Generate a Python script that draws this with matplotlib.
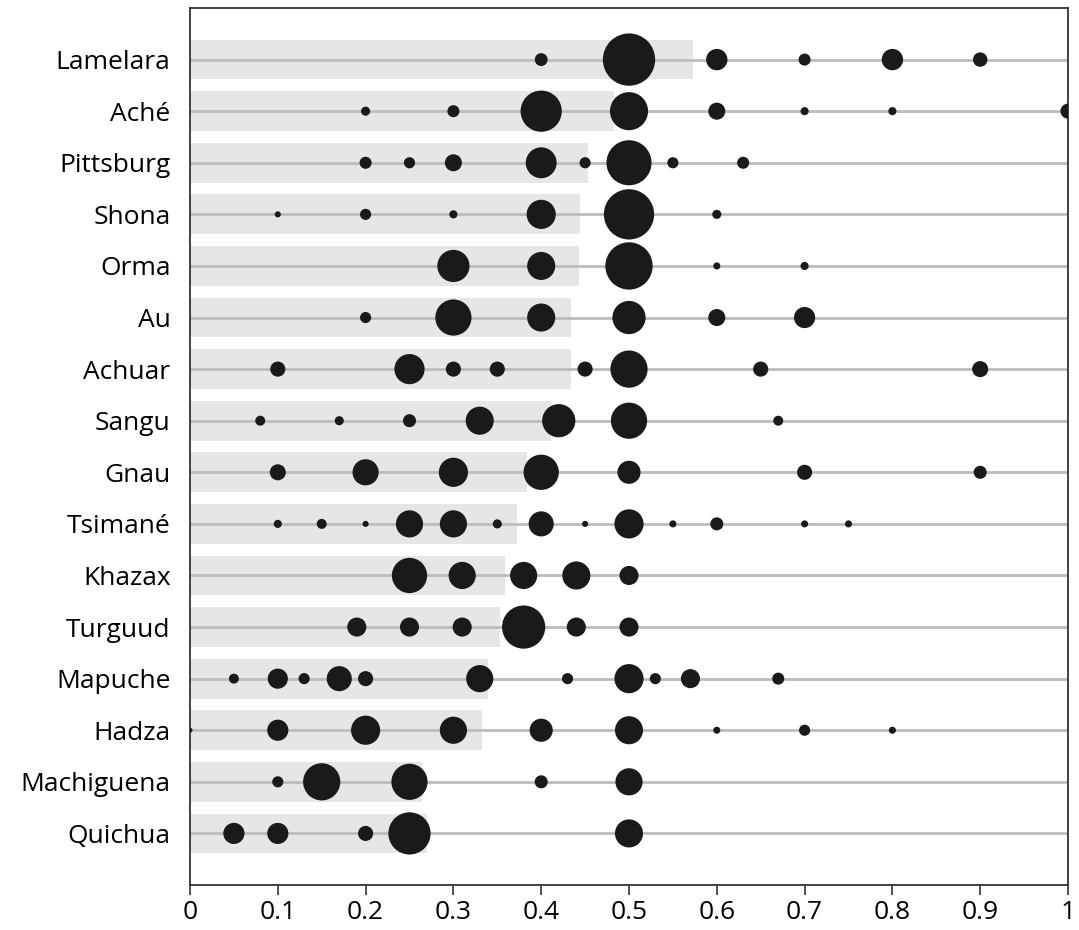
#required packages
import matplotlib.pyplot as plt
import numpy as np

plt.rcParams['font.family'] = ['Open Sans', 'DejaVu Sans']

#societies, top to bottom, with mean offer (gray bar)
societies = ["Lamelara", "Aché", "Pittsburg", "Shona", "Orma", "Au", "Achuar", "Sangu",
             "Gnau", "Tsimané", "Khazax", "Turguud", "Mapuche", "Hadza", "Machiguena", "Quichua"]
mean_offer = [0.573, 0.483, 0.453, 0.444, 0.443, 0.434, 0.434, 0.411,
              0.384, 0.372, 0.359, 0.353, 0.339, 0.333, 0.264, 0.27]

#offers made and share of offers (percent) for each society
lamelara_offers = [0.4, 0.5, 0.6, 0.7, 0.8, 0.9]
lamelara_share = [4, 66, 11, 3.5, 11, 5]
ache_offers = [0.2, 0.3, 0.4, 0.5, 0.6, 0.7, 0.8, 1.0]
ache_share = [2, 3.5, 41, 35, 7, 1.6, 1.6, 5.5]
pittsburg_offers = [0.2, 0.25, 0.3, 0.4, 0.45, 0.5, 0.55, 0.63]
pittsburg_share = [3.5, 3, 7, 23, 3, 49, 3, 3.5]
shona_offers = [0.1, 0.2, 0.3, 0.4, 0.5, 0.6]
shona_share = [0.9, 3, 1.6, 20.5, 61, 2]
orma_offers = [0.3, 0.4, 0.5, 0.6, 0.7]
orma_share = [25, 19, 54, 1.2, 1.6]
au_offers = [0.2, 0.3, 0.4, 0.5, 0.6, 0.7]
au_share = [3, 31.6, 19, 26.6, 7, 10.8]
achuar_offers = [0.1, 0.25, 0.3, 0.35, 0.45, 0.5, 0.65, 0.9]
achuar_share = [5.5, 22, 5.5, 5.5, 5.5, 33.4, 5.5, 6.2]
sangu_offers = [0.08, 0.17, 0.25, 0.33, 0.42, 0.5, 0.67]
sangu_share = [2.4, 2, 4.1, 19, 26.6, 31.6, 2.4]
gnau_offers = [0.1, 0.2, 0.3, 0.4, 0.5, 0.7, 0.9]
gnau_share = [6.2, 16.5, 20.5, 30, 12.9, 5.5, 4.1]
tsimane_offers = [0.1, 0.15, 0.2, 0.25, 0.3, 0.35, 0.4, 0.45, 0.5, 0.55, 0.6, 0.7, 0.75]
tsimane_share = [1.6, 2.4, 0.9, 17.8, 17.8, 2, 15.2, 0.9, 20.5, 1.2, 4.1, 1.2, 1.2]
khazax_offers = [0.25, 0.31, 0.38, 0.44, 0.5]
khazax_share = [30, 17.8, 17.8, 19, 8.8]
turguud_offers = [0.19, 0.25, 0.31, 0.38, 0.44, 0.5]
turguud_share = [8.8, 8.8, 8.8, 45, 8.8, 8.8]
mapuche_offers = [0.05, 0.1, 0.13, 0.17, 0.2, 0.33, 0.43, 0.5, 0.53, 0.57, 0.67]
mapuche_share = [2.4, 9.8, 3, 15.2, 5.5, 17.8, 3, 20.5, 3, 8.8, 3.5]
hadza_offers = [0.0, 0.1, 0.2, 0.3, 0.4, 0.5, 0.6, 0.7, 0.8]
hadza_share = [0.6, 10.8, 20.5, 17.8, 12.9, 19, 1.2, 3, 1.2]
machiguena_offers = [0.1, 0.15, 0.25, 0.4, 0.5]
machiguena_share = [3, 33.4, 31.6, 4.1, 17.8]
quichua_offers = [0.05, 0.1, 0.2, 0.25, 0.5]
quichua_share = [10.8, 10.8, 5.5, 43, 19]

offers = [lamelara_offers, ache_offers, pittsburg_offers, shona_offers, orma_offers, au_offers,
          achuar_offers, sangu_offers, gnau_offers, tsimane_offers, khazax_offers, turguud_offers,
          mapuche_offers, hadza_offers, machiguena_offers, quichua_offers]
shares = [lamelara_share, ache_share, pittsburg_share, shona_share, orma_share, au_share,
          achuar_share, sangu_share, gnau_share, tsimane_share, khazax_share, turguud_share,
          mapuche_share, hadza_share, machiguena_share, quichua_share]

fig = plt.figure(figsize=(10.79, 9.30), dpi=100)
ax = fig.add_axes([190/1079, 1-885/930, 878/1079, 877/930])

rows = np.arange(1, len(societies)+1)

#mean offer bars
ax.barh(rows, mean_offer, height=0.77, color="#e6e6e6", zorder=1)

#row guide lines
for r in rows:
    ax.axhline(r, color="#bcbcbc", lw=2.0, zorder=2)

#circles, area ~ share of offers
for r, xs, sh in zip(rows, offers, shares):
    ax.scatter(xs, [r]*len(xs), s=np.array(sh)*21.5, color="#1a1a1a", linewidths=0, zorder=3)

ax.set_xlim(0, 1)
ax.set_ylim(len(societies)+1, 0)
ax.set_yticks(rows)
ax.set_yticklabels(societies, fontsize=19)
ax.tick_params(axis='y', length=0, pad=14)
ax.set_xticks(np.arange(0, 1.01, 0.1))
ax.set_xticklabels(["0", "0.1", "0.2", "0.3", "0.4", "0.5", "0.6", "0.7", "0.8", "0.9", "1"], fontsize=19)
ax.tick_params(axis='x', length=7, width=1.2, direction='out', pad=4, color="#333333")
for sp in ax.spines.values():
    sp.set_color("#333333")
    sp.set_linewidth(1.3)

plt.savefig("out.png", dpi=100)
